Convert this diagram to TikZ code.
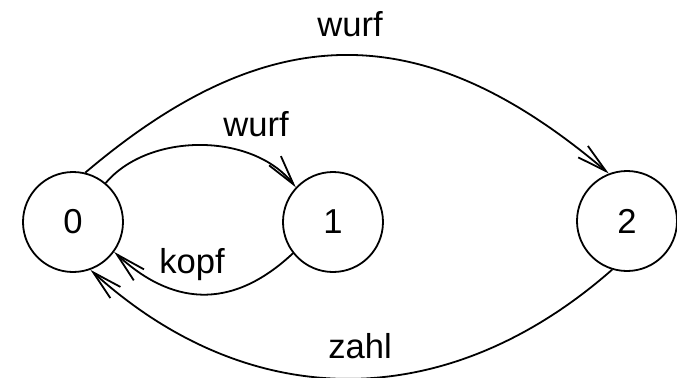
\documentclass[tikz,border=0pt]{standalone}
\usepackage{fontspec}
\setmainfont{Liberation Sans}
\usetikzlibrary{arrows.meta}
\begin{document}
\begin{tikzpicture}[x=0.5pt,y=-0.5pt,
  line width=0.9pt,
  every node/.style={font=\fontsize{17.3pt}{20pt}\selectfont},
  state/.style={circle,draw,line width=0.9pt,minimum size=50pt,inner sep=0pt},
  trans/.style={draw,-{Straight Barb[length=15pt,width=7.5pt]}},
  lbl/.style={anchor=base,inner sep=0pt}]
\useasboundingbox (0,0) rectangle (677,377);

% states
\node[state] (n0) at (73,222) {0};
\node[state] (n1) at (333,222) {1};
\node[state] (n2) at (627,221) {2};

% transitions
\draw[trans] (n0.50) .. controls +(43,-51) and +(-43,-55) .. (n1.137);
\draw[trans] (n0.76) .. controls +(185,-157) and +(-185,-157) .. (n2.111);
\draw[trans] (n1.218) .. controls +(-63,59) and +(56,52) .. (n0.-36);
\draw[trans] (n2.-107) .. controls +(-165,145) and +(160,145) .. (n0.-70);

% labels
\node[lbl] (w1) at (256,136) {wurf};
\node[lbl] (w2) at (350,36) {wurf};
\node[lbl] (k) at (192,273) {kopf};
\node[lbl] (z) at (360,358) {zahl};
\end{tikzpicture}
\end{document}
